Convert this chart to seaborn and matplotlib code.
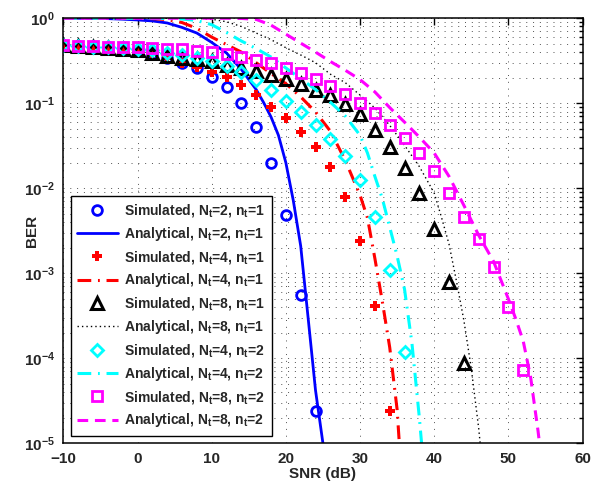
import matplotlib
matplotlib.use("Agg")
import matplotlib.pyplot as plt
import seaborn as sns
import numpy as np
from matplotlib.ticker import FixedLocator, LogLocator, NullFormatter

# ---------------- data ----------------
sim_snr_2_1 = [-10, -8, -6, -4, -2, 0, 2, 4, 6, 8, 10, 12, 14, 16, 18, 20, 22, 24]
sim_ber_2_1 = [0.48, 0.47, 0.46, 0.45, 0.43, 0.41, 0.38, 0.34, 0.30, 0.258, 0.206,
               0.157, 0.10, 0.052, 0.020, 0.0049, 5.6e-4, 2.4e-5]

ana_snr_2_1 = [-10, -8, -6, -4, -2, 0, 2, 4, 6, 8, 10, 12, 14, 16, 17, 18, 19, 20,
               21, 22, 23, 24, 25]
ana_ber_2_1 = [1.0, 1.0, 0.997, 0.99, 0.975, 0.955, 0.93, 0.88, 0.78, 0.67, 0.52,
               0.39, 0.25, 0.145, 0.102, 0.069, 0.042, 0.020, 0.0072, 0.0021,
               3.0e-4, 4.2e-5, 1.0e-5]

sim_snr_4_1 = [-10, -8, -6, -4, -2, 0, 2, 4, 6, 8, 10, 12, 14, 16, 18, 20, 22, 24,
               26, 28, 30, 32, 34]
sim_ber_4_1 = [0.48, 0.47, 0.465, 0.455, 0.445, 0.42, 0.38, 0.34, 0.30, 0.27, 0.235,
               0.202, 0.164, 0.125, 0.091, 0.067, 0.046, 0.031, 0.018, 0.008,
               0.0024, 4.1e-4, 2.4e-5]

ana_snr_4_1 = [-10, -6, -2, 0, 2, 4, 6, 8, 10, 12, 14, 16, 18, 20, 22, 24, 26, 28,
               30, 31, 32, 33, 34, 35, 35.3]
ana_ber_4_1 = [1.0, 1.0, 0.998, 0.995, 0.99, 0.966, 0.89, 0.76, 0.60, 0.49, 0.40,
               0.30, 0.224, 0.17, 0.119, 0.079, 0.047, 0.0214, 0.0083, 0.0045,
               0.0015, 4.7e-4, 1.35e-4, 2.5e-5, 1.0e-5]

sim_snr_8_1 = [-10, -8, -6, -4, -2, 0, 2, 4, 6, 8, 10, 12, 14, 16, 18, 20, 22, 24,
               26, 28, 30, 32, 34, 36, 38, 40, 42, 44]
sim_ber_8_1 = [0.48, 0.47, 0.46, 0.45, 0.44, 0.42, 0.39, 0.36, 0.345, 0.335, 0.31,
               0.285, 0.26, 0.238, 0.215, 0.193, 0.169, 0.143, 0.124, 0.097, 0.074,
               0.0485, 0.031, 0.0175, 0.0087, 0.0033, 8.0e-4, 8.7e-5]

ana_snr_8_1 = [-10, 0, 4, 8, 10, 12, 14, 16, 18, 20, 22, 24, 26, 28, 30, 32, 34, 36,
               38, 40, 41, 42, 43, 44, 45, 46, 46.2]
ana_ber_8_1 = [1.0, 1.0, 0.999, 0.993, 0.975, 0.91, 0.80, 0.67, 0.56, 0.45, 0.37,
               0.30, 0.22, 0.175, 0.125, 0.088, 0.055, 0.032, 0.018, 0.0088, 0.0045,
               0.0022, 8.1e-4, 2.8e-4, 7.6e-5, 1.5e-5, 1.0e-5]

sim_snr_4_2 = [-10, -8, -6, -4, -2, 0, 2, 4, 6, 8, 10, 12, 14, 16, 18, 20, 22, 24,
               26, 28, 30, 32, 34, 36]
sim_ber_4_2 = [0.48, 0.47, 0.465, 0.455, 0.45, 0.44, 0.42, 0.39, 0.37, 0.345, 0.31,
               0.277, 0.235, 0.188, 0.143, 0.107, 0.078, 0.0555, 0.038, 0.0242,
               0.0125, 0.0046, 0.0011, 1.2e-4]

ana_snr_4_2 = [-10, -4, 0, 2, 4, 6, 8, 10, 12, 14, 16, 18, 20, 22, 24, 26, 28, 30,
               31, 32, 33, 34, 35, 36, 37, 38, 38.3]
ana_ber_4_2 = [1.0, 1.0, 0.999, 0.998, 0.994, 0.98, 0.94, 0.84, 0.68, 0.54, 0.44,
               0.35, 0.26, 0.195, 0.145, 0.103, 0.071, 0.042, 0.026, 0.0138, 0.0076,
               0.0035, 0.0016, 6.5e-4, 1.5e-4, 2.0e-5, 1.0e-5]

sim_snr_8_2 = [-10, -8, -6, -4, -2, 0, 2, 4, 6, 8, 10, 12, 14, 16, 18, 20, 22, 24,
               26, 28, 30, 32, 34, 36, 38, 40, 42, 44, 46, 48, 50, 52]
sim_ber_8_2 = [0.48, 0.475, 0.47, 0.465, 0.46, 0.455, 0.45, 0.44, 0.43, 0.416, 0.398,
               0.377, 0.354, 0.323, 0.296, 0.262, 0.225, 0.193, 0.161, 0.128, 0.102,
               0.0776, 0.0555, 0.0388, 0.0258, 0.0158, 0.0087, 0.0046, 0.0025,
               0.0012, 4.0e-4, 7.3e-5]

ana_snr_8_2 = [-10, 0, 8, 12, 14, 16, 18, 20, 22, 24, 26, 28, 30, 32, 34, 36, 38, 40,
               42, 44, 46, 48, 50, 51, 52, 53, 54, 54.2]
ana_ber_8_2 = [1.0, 1.0, 1.0, 0.999, 0.995, 0.97, 0.83, 0.65, 0.51, 0.40, 0.31, 0.245,
               0.19, 0.136, 0.089, 0.06, 0.04, 0.026, 0.0138, 0.0063, 0.0028,
               0.00138, 5.0e-4, 2.9e-4, 1.6e-4, 6.0e-5, 1.4e-5, 1.0e-5]

labels = [
    r"Simulated, N$_\mathregular{t}$=2, n$_\mathregular{t}$=1",
    r"Analytical, N$_\mathregular{t}$=2, n$_\mathregular{t}$=1",
    r"Simulated, N$_\mathregular{t}$=4, n$_\mathregular{t}$=1",
    r"Analytical, N$_\mathregular{t}$=4, n$_\mathregular{t}$=1",
    r"Simulated, N$_\mathregular{t}$=8, n$_\mathregular{t}$=1",
    r"Analytical, N$_\mathregular{t}$=8, n$_\mathregular{t}$=1",
    r"Simulated, N$_\mathregular{t}$=4, n$_\mathregular{t}$=2",
    r"Analytical, N$_\mathregular{t}$=4, n$_\mathregular{t}$=2",
    r"Simulated, N$_\mathregular{t}$=8, n$_\mathregular{t}$=2",
    r"Analytical, N$_\mathregular{t}$=8, n$_\mathregular{t}$=2",
]
x_ticks = [-10, 0, 10, 20, 30, 40, 50, 60]
y_ticks = [1e-5, 1e-4, 1e-3, 1e-2, 1e-1, 1e0]

# ---------------- style ----------------
sns.set_theme(style="white")
plt.rcParams["font.family"] = ["Liberation Sans", "DejaVu Sans"]
plt.rcParams["font.weight"] = "bold"
plt.rcParams["axes.labelweight"] = "bold"
plt.rcParams["mathtext.fontset"] = "custom"
plt.rcParams["mathtext.rm"] = "Liberation Sans:bold"
plt.rcParams["mathtext.it"] = "Liberation Sans:bold"
plt.rcParams["mathtext.bf"] = "Liberation Sans:bold"

fig = plt.figure(figsize=(5.92, 4.83), dpi=100)
ax = fig.add_axes([0.107, 0.0822, 0.877, 0.880])

def sim(x, y, color, marker, ms, mew, label, fill="none"):
    sns.lineplot(x=x, y=y, ax=ax, color=color, marker=marker, linestyle="",
                 markersize=ms, markeredgewidth=mew, markeredgecolor=color,
                 markerfacecolor=fill, label=label, legend=False)

def ana(x, y, color, lw, dashes, label):
    sns.lineplot(x=x, y=y, ax=ax, color=color, linewidth=lw, label=label,
                 legend=False)
    ln = ax.get_lines()[-1]
    if dashes is not None:
        ln.set_dashes(dashes)

sim(sim_snr_2_1, sim_ber_2_1, "#0000FF", "o", 7, 2.0, labels[0])
ana(ana_snr_2_1, ana_ber_2_1, "#0000FF", 2.0, None, labels[1])
sim(sim_snr_4_1, sim_ber_4_1, "#FF0000", "P", 7.5, 0.0, labels[2], fill="#FF0000")
ana(ana_snr_4_1, ana_ber_4_1, "#FF0000", 2.2, (4.5, 2.2, 0.6, 2.2), labels[3])
sim(sim_snr_8_1, sim_ber_8_1, "black", "^", 8.5, 2.2, labels[4])
ana(ana_snr_8_1, ana_ber_8_1, "black", 1.0, (1, 2.2), labels[5])
sim(sim_snr_4_2, sim_ber_4_2, "#00FFFF", "D", 6.5, 2.0, labels[6])
ana(ana_snr_4_2, ana_ber_4_2, "#00FFFF", 2.2, (4.5, 2.2, 0.6, 2.2), labels[7])
sim(sim_snr_8_2, sim_ber_8_2, "#FF00FF", "s", 6.5, 2.0, labels[8])
ana(ana_snr_8_2, ana_ber_8_2, "#FF00FF", 2.2, (3.5, 2.2), labels[9])

ax.set_yscale("log")
ax.set_xlim(-10, 60)
ax.set_ylim(1e-5, 1)
ax.xaxis.set_major_locator(FixedLocator(x_ticks))
ax.yaxis.set_major_locator(FixedLocator(y_ticks))
ax.yaxis.set_minor_locator(LogLocator(base=10, subs=np.arange(2, 10), numticks=20))
ax.yaxis.set_minor_formatter(NullFormatter())

grid_kw = dict(color="#333333", linewidth=0.7, dashes=(1, 6), alpha=0.85)
ax.grid(True, which="major", axis="both", **grid_kw)
ax.grid(True, which="minor", axis="y", **grid_kw)
ax.set_axisbelow(True)

ax.tick_params(which="both", direction="in", top=True, right=True,
               labelsize=11, width=1, color="black")
ax.tick_params(which="major", length=5)
ax.tick_params(which="minor", length=3)
ax.tick_params(axis="x", which="major", pad=6)
ax.tick_params(axis="y", which="major", pad=6)
for lab in ax.get_xticklabels() + ax.get_yticklabels():
    lab.set_fontweight("bold")
for s in ax.spines.values():
    s.set_linewidth(1.1)
    s.set_color("black")

ax.set_xlabel("SNR (dB)", fontsize=11, fontweight="bold", labelpad=1)
ax.set_ylabel("BER", fontsize=11, fontweight="bold")
ax.yaxis.set_label_coords(-0.047, 0.5)

leg = ax.legend(loc="lower left", fancybox=False, framealpha=1, edgecolor="black",
                prop={"size": 10, "weight": "bold"}, handlelength=2.9,
                labelspacing=0.42, borderaxespad=0.55, numpoints=1,
                handletextpad=0.5, borderpad=0.45)
leg.get_frame().set_linewidth(1.0)

fig.savefig("out.png", dpi=100)
